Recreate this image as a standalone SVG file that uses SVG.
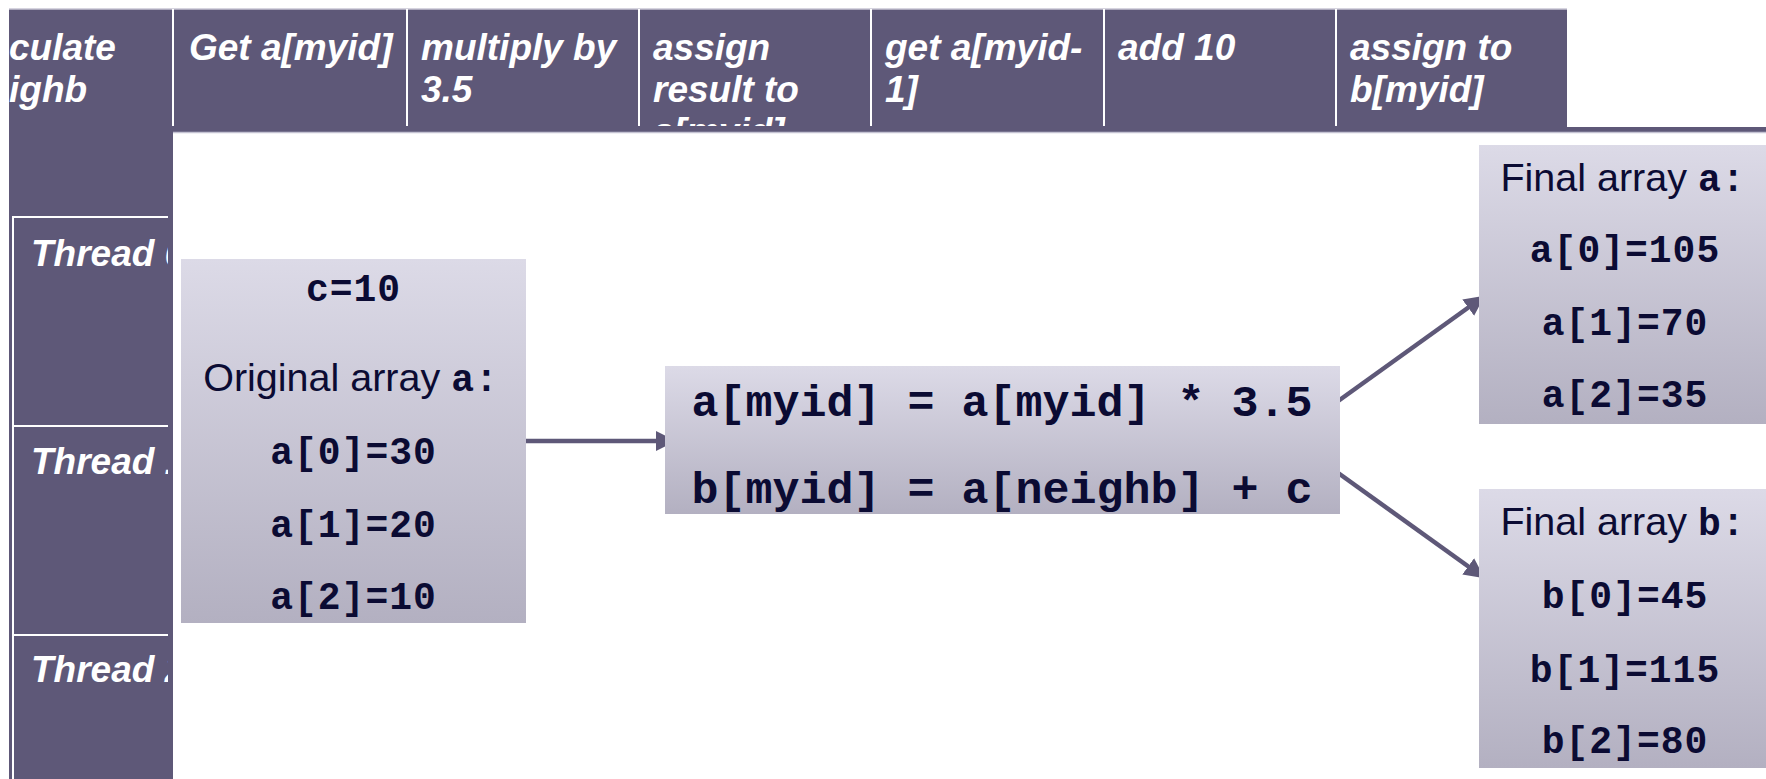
<svg xmlns="http://www.w3.org/2000/svg" width="1766" height="779" viewBox="0 0 1766 779">
<style>
.purple{fill:#5e5878}
.sep{stroke:#ffffff;stroke-width:2}
.hdr{font-family:"Liberation Sans",Arial,sans-serif;font-weight:bold;font-style:italic;font-size:37px;fill:#ffffff}
.box{fill:url(#boxgrad)}
.sans{font-family:"Liberation Sans",Arial,sans-serif;font-size:39.5px;fill:#0b0b33}
.mono{font-family:"Liberation Mono","Courier New",monospace;font-weight:bold;font-size:38px;fill:#0b0b33;letter-spacing:1px}
.big{font-family:"Liberation Mono","Courier New",monospace;font-weight:bold;font-size:45px;fill:#0b0b33}
.conn{stroke:#5e5878;stroke-width:4.5;fill:none}
</style>
<defs>
<linearGradient id="boxgrad" x1="0" y1="0" x2="0" y2="1">
<stop offset="0" stop-color="#dcdae7"/>
<stop offset="1" stop-color="#b3b0c1"/>
</linearGradient>
<marker id="arrow" viewBox="0 0 10 10" refX="9" refY="5" markerWidth="4.5" markerHeight="4.5" orient="auto" markerUnits="strokeWidth">
<path d="M0,0 L10,5 L0,10 z" fill="#5e5878"/>
</marker>
<clipPath id="hclip"><rect x="9" y="9" width="1558" height="117"/></clipPath>
<clipPath id="tclip"><rect x="14" y="218" width="154" height="561"/></clipPath>
</defs>

<g id="table">
<rect class="purple" x="9" y="9" width="164" height="770"/>
<rect class="purple" x="9" y="9" width="1558" height="118"/>
<rect class="purple" x="173" y="127" width="1593" height="5"/>
<line x1="173" y1="132.5" x2="1766" y2="132.5" stroke="#c4c2d2" stroke-width="1.5"/>
<line x1="9" y1="9" x2="1567" y2="9" stroke="#c8c6d4" stroke-width="1.5"/>
<line class="sep" x1="173" y1="9" x2="173" y2="126"/>
<line class="sep" x1="407" y1="9" x2="407" y2="126"/>
<line class="sep" x1="639" y1="9" x2="639" y2="126"/>
<line class="sep" x1="871" y1="9" x2="871" y2="126"/>
<line class="sep" x1="1104" y1="9" x2="1104" y2="126"/>
<line class="sep" x1="1336" y1="9" x2="1336" y2="126"/>
<line class="sep" x1="12" y1="217" x2="168" y2="217"/>
<line class="sep" x1="12" y1="426" x2="168" y2="426"/>
<line class="sep" x1="12" y1="635" x2="168" y2="635"/>
<line class="sep" x1="13" y1="217" x2="13" y2="779"/>
<g clip-path="url(#hclip)">
<text class="hdr" x="9" y="60">culate</text>
<text class="hdr" x="9" y="102">ighb</text>
<text class="hdr" x="189" y="60">Get a[myid]</text>
<text class="hdr" x="421" y="60">multiply by</text>
<text class="hdr" x="421" y="102">3.5</text>
<text class="hdr" x="653" y="60">assign</text>
<text class="hdr" x="653" y="102">result to</text>
<text class="hdr" x="653" y="144">a[myid]</text>
<text class="hdr" x="885" y="60">get a[myid-</text>
<text class="hdr" x="885" y="102">1]</text>
<text class="hdr" x="1118" y="60">add 10</text>
<text class="hdr" x="1350" y="60">assign to</text>
<text class="hdr" x="1350" y="102">b[myid]</text>
</g>
<g clip-path="url(#tclip)">
<text class="hdr" x="31" y="266">Thread 0</text>
<text class="hdr" x="31" y="474">Thread 1</text>
<text class="hdr" x="31" y="682">Thread 2</text>
</g>
</g>

<g id="connectors">
<line class="conn" x1="526" y1="441" x2="674" y2="441" marker-end="url(#arrow)"/>
<line class="conn" x1="1334" y1="404" x2="1483" y2="297" marker-end="url(#arrow)"/>
<line class="conn" x1="1334" y1="470" x2="1483" y2="577" marker-end="url(#arrow)"/>
</g>

<g id="original">
<rect class="box" x="181" y="259" width="345" height="364"/>
<text class="mono" x="353.5" y="301" text-anchor="middle">c=10</text>
<text class="sans" x="351" y="391" text-anchor="middle">Original array <tspan class="mono">a:</tspan></text>
<text class="mono" x="353.5" y="464" text-anchor="middle">a[0]=30</text>
<text class="mono" x="353.5" y="537" text-anchor="middle">a[1]=20</text>
<text class="mono" x="353.5" y="609" text-anchor="middle">a[2]=10</text>
</g>

<g id="code">
<rect class="box" x="665" y="366" width="675" height="148"/>
<text class="big" x="1002" y="416" text-anchor="middle">a[myid] = a[myid] * 3.5</text>
<text class="big" x="1002" y="503" text-anchor="middle">b[myid] = a[neighb] + c</text>
</g>

<g id="final-a">
<rect class="box" x="1479" y="145" width="300" height="279"/>
<text class="sans" x="1623" y="191" text-anchor="middle">Final array <tspan class="mono">a:</tspan></text>
<text class="mono" x="1625" y="262" text-anchor="middle">a[0]=105</text>
<text class="mono" x="1625" y="335" text-anchor="middle">a[1]=70</text>
<text class="mono" x="1625" y="407" text-anchor="middle">a[2]=35</text>
</g>

<g id="final-b">
<rect class="box" x="1479" y="489" width="300" height="279"/>
<text class="sans" x="1623" y="535" text-anchor="middle">Final array <tspan class="mono">b:</tspan></text>
<text class="mono" x="1625" y="608" text-anchor="middle">b[0]=45</text>
<text class="mono" x="1625" y="682" text-anchor="middle">b[1]=115</text>
<text class="mono" x="1625" y="753" text-anchor="middle">b[2]=80</text>
</g>
</svg>
